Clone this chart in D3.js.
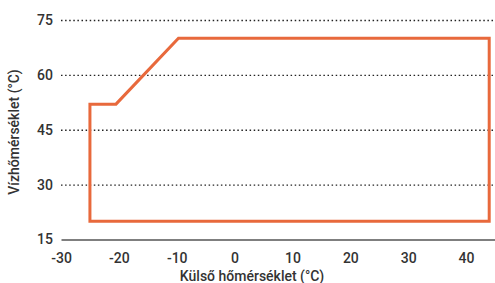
<!DOCTYPE html>
<html><head><meta charset="utf-8">
<script src="https://cdn.jsdelivr.net/npm/d3@7"></script>
<style>body{margin:0;background:#fff}svg{display:block}</style>
</head><body>
<svg id="c" width="495" height="283"></svg>
<script>
const xTicks = [-30, -20, -10, 0, 10, 20, 30, 40];
const yTicks = [15, 30, 45, 60, 75];
const envelopeX = [-25, -25, -20.5, -9.7, 44, 44];
const envelopeY = [20, 52, 52, 70, 70, 20];
const xTitle = "Külső hőmérséklet (°C)";
const yTitle = "Vízhőmérséklet (°C)";

const svg = d3.select("#c");
const font = "Roboto, 'DejaVu Sans', sans-serif";
const x = d3.scaleLinear().domain([-30, 45]).range([61, 495]);
const y = d3.scaleLinear().domain([15, 75]).range([239.5, 20]);
const fmt = d => String(d);

// gridlines
const grid = svg.append("g").attr("transform", "translate(61,0)")
  .call(d3.axisLeft(y).tickValues(yTicks.slice(1)).tickSize(-(495 - 61)).tickFormat(""));
grid.select(".domain").remove();
grid.selectAll("line").attr("stroke", "#222").attr("stroke-width", 1.4).attr("stroke-dasharray", "1.5,2.6");

// y labels
const yAx = svg.append("g").attr("transform", "translate(61,0)")
  .call(d3.axisLeft(y).tickValues(yTicks).tickSize(0).tickPadding(8).tickFormat(fmt));
yAx.select(".domain").remove();
yAx.selectAll("text").attr("font-family", font).attr("font-size", 14).attr("font-weight", 500).attr("fill", "#333");

// x axis
const xAx = svg.append("g").attr("transform", `translate(0,${y(15)})`)
  .call(d3.axisBottom(x).tickValues(xTicks).tickSize(0).tickPadding(14).tickFormat(fmt));
xAx.select(".domain").attr("stroke", "#555").attr("stroke-width", 1.5);
xAx.selectAll("text").attr("font-family", font).attr("font-size", 14).attr("font-weight", 500).attr("fill", "#333");

// envelope
const pts = envelopeX.map((v, i) => [x(v), y(envelopeY[i])]);
svg.append("path")
  .attr("d", d3.line()(pts) + "Z")
  .attr("fill", "none").attr("stroke", "#e8693c").attr("stroke-width", 3)
  .attr("stroke-linejoin", "miter");

// titles
svg.append("text").attr("x", 252).attr("y", 281)
  .attr("text-anchor", "middle").attr("font-family", font).attr("font-size", 14)
  .attr("font-weight", 500).attr("fill", "#333").text(xTitle);
svg.append("text").attr("transform", "translate(19,132) rotate(-90)")
  .attr("text-anchor", "middle").attr("font-family", font).attr("font-size", 14)
  .attr("font-weight", 500).attr("fill", "#333").text(yTitle);
</script>
</body></html>
